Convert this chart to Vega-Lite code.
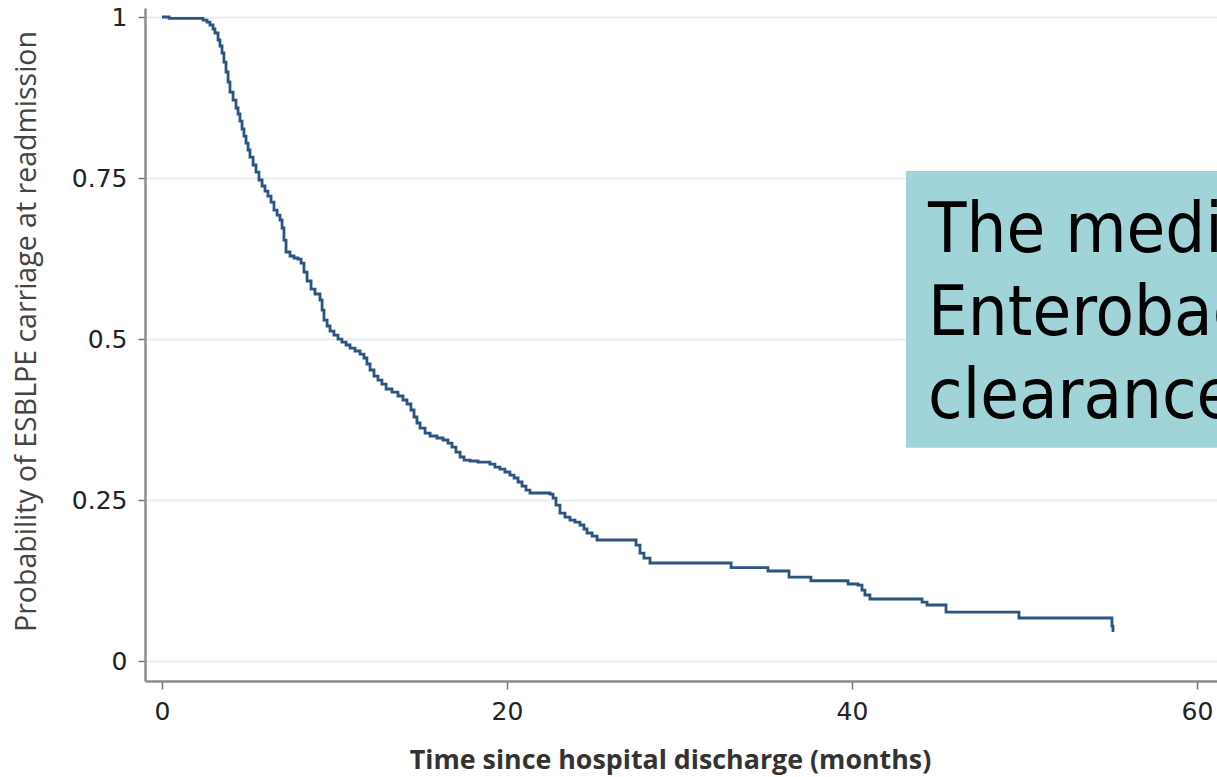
{
  "$schema": "https://vega.github.io/schema/vega-lite/v6.json",
  "width": 1072,
  "height": 673,
  "autosize": {"type": "none"},
  "padding": {"left": 145, "top": 8, "right": 0, "bottom": 96},
  "background": "white",
  "config": {"view": {"stroke": null}},
  "datasets": {
    "km": [
      {"t": 0, "s": 1.0},
      {"t": 0.41, "s": 0.998},
      {"t": 2.38, "s": 0.9953},
      {"t": 2.61, "s": 0.9922},
      {"t": 2.78, "s": 0.9876},
      {"t": 2.96, "s": 0.9814},
      {"t": 3.07, "s": 0.9752},
      {"t": 3.25, "s": 0.9643},
      {"t": 3.36, "s": 0.955},
      {"t": 3.48, "s": 0.9441},
      {"t": 3.59, "s": 0.9301},
      {"t": 3.71, "s": 0.9146},
      {"t": 3.83, "s": 0.8991},
      {"t": 3.94, "s": 0.8835},
      {"t": 4.12, "s": 0.8711},
      {"t": 4.29, "s": 0.8587},
      {"t": 4.41, "s": 0.8494},
      {"t": 4.52, "s": 0.8385},
      {"t": 4.64, "s": 0.8261},
      {"t": 4.75, "s": 0.8152},
      {"t": 4.87, "s": 0.8043},
      {"t": 4.99, "s": 0.7935},
      {"t": 5.1, "s": 0.7826},
      {"t": 5.28, "s": 0.7702},
      {"t": 5.45, "s": 0.7593},
      {"t": 5.62, "s": 0.7469},
      {"t": 5.8, "s": 0.7376},
      {"t": 5.97, "s": 0.7298},
      {"t": 6.14, "s": 0.722},
      {"t": 6.32, "s": 0.7127},
      {"t": 6.49, "s": 0.7003},
      {"t": 6.67, "s": 0.6925},
      {"t": 6.84, "s": 0.6848},
      {"t": 6.96, "s": 0.6724},
      {"t": 7.07, "s": 0.6537},
      {"t": 7.19, "s": 0.6351},
      {"t": 7.42, "s": 0.6289},
      {"t": 7.65, "s": 0.6258},
      {"t": 7.88, "s": 0.6242},
      {"t": 8.06, "s": 0.618},
      {"t": 8.23, "s": 0.604},
      {"t": 8.41, "s": 0.5901},
      {"t": 8.64, "s": 0.5776},
      {"t": 8.87, "s": 0.5699},
      {"t": 9.16, "s": 0.5606},
      {"t": 9.28, "s": 0.545},
      {"t": 9.39, "s": 0.5295},
      {"t": 9.57, "s": 0.5202},
      {"t": 9.74, "s": 0.5124},
      {"t": 9.97, "s": 0.5062},
      {"t": 10.2, "s": 0.5},
      {"t": 10.43, "s": 0.4953},
      {"t": 10.67, "s": 0.4907},
      {"t": 10.9, "s": 0.486},
      {"t": 11.19, "s": 0.4814},
      {"t": 11.48, "s": 0.4767},
      {"t": 11.71, "s": 0.4705},
      {"t": 11.88, "s": 0.4612},
      {"t": 12.06, "s": 0.4519},
      {"t": 12.29, "s": 0.4425},
      {"t": 12.52, "s": 0.4363},
      {"t": 12.75, "s": 0.4301},
      {"t": 12.99, "s": 0.4224},
      {"t": 13.33, "s": 0.4177},
      {"t": 13.68, "s": 0.4115},
      {"t": 13.97, "s": 0.4053},
      {"t": 14.2, "s": 0.3991},
      {"t": 14.43, "s": 0.3898},
      {"t": 14.61, "s": 0.3789},
      {"t": 14.78, "s": 0.3696},
      {"t": 14.96, "s": 0.3618},
      {"t": 15.25, "s": 0.354},
      {"t": 15.54, "s": 0.3494},
      {"t": 15.94, "s": 0.3463},
      {"t": 16.29, "s": 0.3432},
      {"t": 16.58, "s": 0.3385},
      {"t": 16.81, "s": 0.3323},
      {"t": 17.04, "s": 0.3245},
      {"t": 17.28, "s": 0.3168},
      {"t": 17.51, "s": 0.3121},
      {"t": 17.86, "s": 0.3106},
      {"t": 18.32, "s": 0.309},
      {"t": 19.01, "s": 0.3059},
      {"t": 19.3, "s": 0.3012},
      {"t": 19.59, "s": 0.2981},
      {"t": 19.88, "s": 0.2935},
      {"t": 20.17, "s": 0.2888},
      {"t": 20.41, "s": 0.2842},
      {"t": 20.64, "s": 0.278},
      {"t": 20.87, "s": 0.2717},
      {"t": 21.1, "s": 0.2655},
      {"t": 21.33, "s": 0.2609},
      {"t": 22.49, "s": 0.2593},
      {"t": 22.67, "s": 0.2531},
      {"t": 22.84, "s": 0.2422},
      {"t": 23.07, "s": 0.2298},
      {"t": 23.36, "s": 0.2236},
      {"t": 23.65, "s": 0.2189},
      {"t": 23.94, "s": 0.2158},
      {"t": 24.23, "s": 0.2112},
      {"t": 24.46, "s": 0.205},
      {"t": 24.64, "s": 0.1988},
      {"t": 24.93, "s": 0.1941},
      {"t": 25.22, "s": 0.1879},
      {"t": 27.48, "s": 0.1801},
      {"t": 27.71, "s": 0.1677},
      {"t": 27.94, "s": 0.1599},
      {"t": 28.29, "s": 0.1522},
      {"t": 32.99, "s": 0.1449},
      {"t": 35.13, "s": 0.1398},
      {"t": 36.35, "s": 0.1304},
      {"t": 37.62, "s": 0.1247},
      {"t": 39.77, "s": 0.1196},
      {"t": 40.35, "s": 0.118},
      {"t": 40.58, "s": 0.1102},
      {"t": 40.75, "s": 0.1025},
      {"t": 41.04, "s": 0.0963},
      {"t": 44.06, "s": 0.0916},
      {"t": 44.35, "s": 0.087},
      {"t": 45.45, "s": 0.0761},
      {"t": 49.68, "s": 0.0668},
      {"t": 55.07, "s": 0.0543},
      {"t": 55.13, "s": 0.045}
    ],
    "box": [
      {"x1": 43.13, "x2": 61.16, "y1": 0.331, "y2": 0.761}
    ],
    "note": [
      {"x": 44.41, "y": 0.635, "label": "The median duration of"},
      {"x": 44.41, "y": 0.506, "label": "Enterobacteriaceae carriage"},
      {"x": 44.41, "y": 0.377, "label": "clearance"}
    ]
  },
  "layer": [
    {
      "data": {"name": "km"},
      "mark": {"type": "line", "interpolate": "step-after", "color": "#2a5583", "strokeWidth": 2.8},
      "encoding": {
        "x": {
          "field": "t",
          "type": "quantitative",
          "scale": {"domain": [-0.986, 61.16], "nice": false, "zero": false},
          "axis": {
            "values": [0, 20, 40, 60],
            "grid": false,
            "domainColor": "#8c8c8c",
            "domainWidth": 2.5,
            "tickColor": "#777777",
            "tickWidth": 1.5,
            "tickSize": 8,
            "labelFont": "DejaVu Sans",
            "labelFontSize": 25,
            "labelColor": "#222222",
            "labelPadding": 10,
            "labelFlush": false,
            "title": "Time since hospital discharge (months)",
            "titleFont": "Open Sans",
            "titleFontSize": 26.8,
            "titleFontWeight": "bold",
            "titleColor": "#333333",
            "titleBaseline": "alphabetic",
            "titleAnchor": null,
            "titleAlign": "center",
            "titleX": 525,
            "titleY": 87
          }
        },
        "y": {
          "field": "s",
          "type": "quantitative",
          "scale": {"domain": [-0.031, 1.014], "nice": false, "zero": false},
          "axis": {
            "values": [0, 0.25, 0.5, 0.75, 1],
            "format": "~g",
            "grid": true,
            "gridColor": "#e5eef3",
            "gridWidth": 2,
            "domainColor": "#8c8c8c",
            "domainWidth": 2.5,
            "tickColor": "#777777",
            "tickWidth": 1.5,
            "tickSize": 7,
            "labelFont": "DejaVu Sans",
            "labelFontSize": 25,
            "labelColor": "#222222",
            "labelPadding": 11,
            "labelFlush": false,
            "title": "Probability of ESBLPE carriage at readmission",
            "titleFont": "Open Sans",
            "titleFontSize": 28.5,
            "titleFontWeight": "normal",
            "titleColor": "#444444",
            "titleAngle": -90,
            "titleBaseline": "alphabetic",
            "titleAnchor": null,
            "titleAlign": "center",
            "titleX": -110,
            "titleY": 323
          }
        }
      }
    },
    {
      "data": {"name": "box"},
      "mark": {"type": "rect", "color": "#a0d4d8", "opacity": 1},
      "encoding": {
        "x": {"field": "x1", "type": "quantitative"},
        "x2": {"field": "x2"},
        "y": {"field": "y1", "type": "quantitative"},
        "y2": {"field": "y2"}
      }
    },
    {
      "data": {"name": "note"},
      "mark": {"type": "text", "align": "left", "baseline": "alphabetic", "font": "DejaVu Sans Condensed", "fontSize": 70, "color": "#000000"},
      "encoding": {
        "x": {"field": "x", "type": "quantitative"},
        "y": {"field": "y", "type": "quantitative"},
        "text": {"field": "label"}
      }
    }
  ]
}
